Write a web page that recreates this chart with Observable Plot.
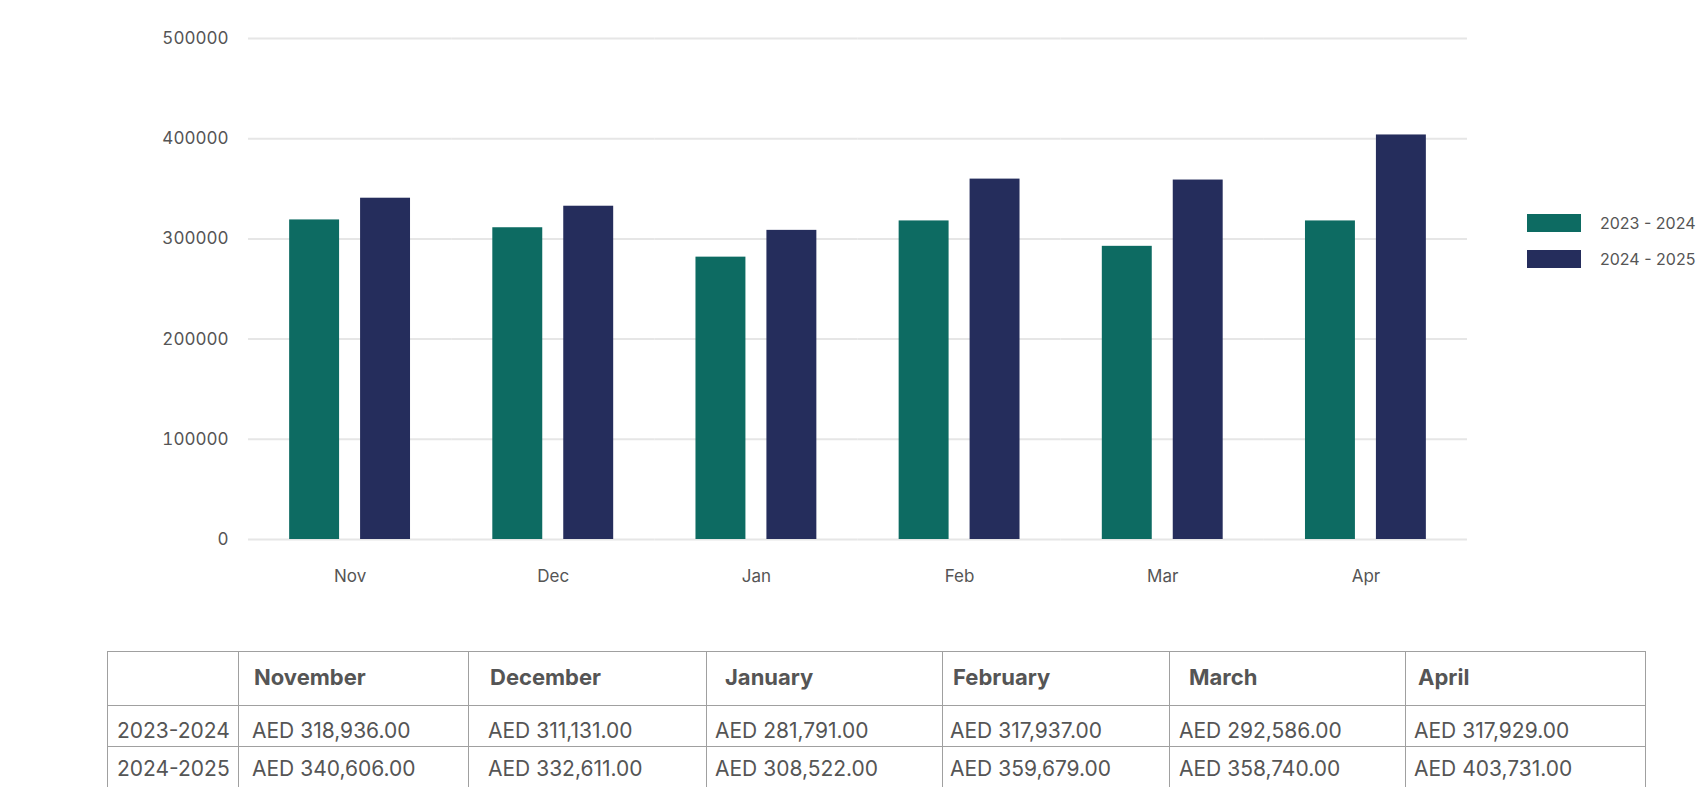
<!DOCTYPE html>
<html>
<head>
<meta charset="utf-8">
<script src="https://cdn.jsdelivr.net/npm/d3@7"></script>
<script src="https://cdn.jsdelivr.net/npm/@observablehq/plot@0.6"></script>
<style>
  html, body { margin: 0; padding: 0; background: #fff; }
  #wrap { position: relative; width: 1696px; height: 787px; overflow: hidden; font-family: Inter, "Open Sans", sans-serif; color: #555; }
  #chart { position: absolute; left: 0; top: 0; }
  .legend { position: absolute; left: 1527px; font-size: 16px; color: #555; white-space: nowrap; }
  .legend .sw { position: absolute; left: 0; width: 54px; height: 18px; }
  .legend .lb { position: absolute; left: 73px; line-height: 18px; }
  table { position: absolute; left: 107px; top: 651px; border-collapse: collapse; table-layout: fixed; width: 1539px; }
  td { border: 1px solid #a0a0a0; padding: 0; white-space: nowrap; color: #555; vertical-align: middle; box-sizing: border-box; }
  tr.head td { height: 54px; font-weight: 700; font-size: 22px; padding-bottom: 4px; }
  tr.row td { font-size: 21px; }
</style>
</head>
<body>
<div id="wrap">
  <div id="chart"></div>
  <div id="legend"></div>
  <table id="tbl"></table>
</div>
<script>
const months = ["Nov", "Dec", "Jan", "Feb", "Mar", "Apr"];
const monthNames = ["November", "December", "January", "February", "March", "April"];
const seriesNames = ["2023 - 2024", "2024 - 2025"];
const rowLabels = ["2023-2024", "2024-2025"];
const values2324 = [318936, 311131, 281791, 317937, 292586, 317929];
const values2425 = [340606, 332611, 308522, 359679, 358740, 403731];
const yTicks = [0, 100000, 200000, 300000, 400000, 500000];
const colors = ["#0d6b62", "#252d5c"];

// layout-only constants
const colWidths = [131, 230, 238, 236, 227, 236, 240];
const headPad = [9, 15, 21, 18, 10, 19, 12];
const cellPad = [9, 13, 19, 8, 7, 9, 8];
const rowHeights = [41, 41];
const rowTopPad = [9, 2];

const data = [];
months.forEach((m, i) => {
  data.push({month: m, series: seriesNames[0], value: values2324[i]});
  data.push({month: m, series: seriesNames[1], value: values2425[i]});
});

const chart = Plot.plot({
  width: 1696,
  height: 620,
  marginTop: 38,
  marginBottom: 81,
  marginLeft: 248,
  marginRight: 229,
  style: {fontFamily: "Inter, 'Open Sans', sans-serif", fontSize: "17px", color: "#555", background: "transparent"},
  fx: {domain: months, padding: 0, round: false, label: null, axis: "bottom", tickSize: 0, tickPadding: 30},
  x: {domain: seriesNames, paddingInner: 0.296, paddingOuter: 0.58, round: false, axis: null},
  y: {domain: [0, 500000], ticks: yTicks, tickFormat: d => String(d), tickSize: 0, tickPadding: 20, label: null},
  color: {domain: seriesNames, range: colors},
  marks: [
    Plot.ruleY(yTicks, {stroke: "#e6e6e6", strokeWidth: 2}),
    Plot.barY(data, {fx: "month", x: "series", y: "value", fill: "series"})
  ]
});
document.getElementById("chart").appendChild(chart);

// legend
const legend = document.getElementById("legend");
const legendTops = [214, 250];
seriesNames.forEach((s, i) => {
  const item = document.createElement("div");
  item.className = "legend";
  item.style.top = legendTops[i] + "px";
  const sw = document.createElement("div");
  sw.className = "sw";
  sw.style.background = colors[i];
  const lb = document.createElement("div");
  lb.className = "lb";
  lb.textContent = s;
  item.appendChild(sw);
  item.appendChild(lb);
  legend.appendChild(item);
});

// table
const fmt = d3.format(",.2f");
const tbl = document.getElementById("tbl");
const cg = document.createElement("colgroup");
colWidths.forEach(w => { const c = document.createElement("col"); c.style.width = w + "px"; cg.appendChild(c); });
tbl.appendChild(cg);
const head = document.createElement("tr");
head.className = "head";
["", ...monthNames].forEach((t, j) => {
  const td = document.createElement("td");
  td.textContent = t;
  td.style.paddingLeft = headPad[j] + "px";
  head.appendChild(td);
});
tbl.appendChild(head);
[values2324, values2425].forEach((vals, r) => {
  const tr = document.createElement("tr");
  tr.className = "row";
  const cells = [rowLabels[r], ...vals.map(v => "AED " + fmt(v))];
  cells.forEach((t, j) => {
    const td = document.createElement("td");
    td.textContent = t;
    td.style.paddingLeft = cellPad[j] + "px";
    td.style.paddingTop = rowTopPad[r] + "px";
    td.style.height = rowHeights[r] + "px";
    tr.appendChild(td);
  });
  tbl.appendChild(tr);
});
</script>
</body>
</html>
